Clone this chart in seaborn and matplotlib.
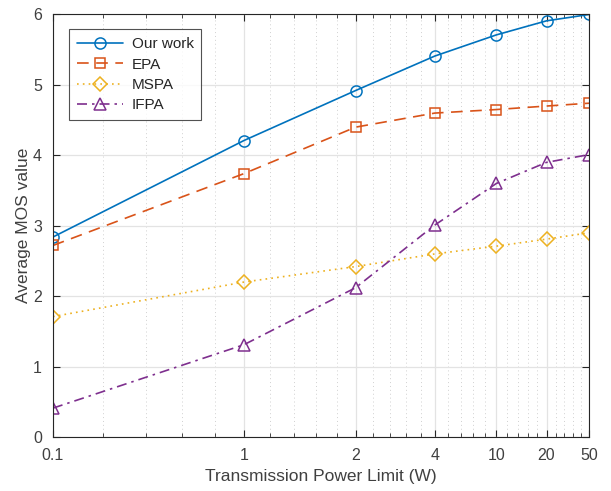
import numpy as np
import matplotlib
matplotlib.use("Agg")
import matplotlib.pyplot as plt
import matplotlib.ticker as mticker
import seaborn as sns

# power limits (W) shown on the axis; points sit at index 1..7 on a log axis
power_labels = ["0.1", "1", "2", "4", "10", "20", "50"]
x_pos = [1, 2, 3, 4, 5, 6, 7]

our_work = [2.84, 4.21, 4.92, 5.41, 5.71, 5.91, 6.0]
epa = [2.72, 3.74, 4.40, 4.60, 4.65, 4.70, 4.74]
mspa = [1.71, 2.20, 2.42, 2.60, 2.71, 2.81, 2.90]
ifpa = [0.41, 1.31, 2.12, 3.01, 3.60, 3.90, 4.01]

series = [
    ("Our work", our_work, "#0072BD", "-", "o", 8),
    ("EPA", epa, "#D95319", (0, (7, 4.5)), "s", 7),
    ("MSPA", mspa, "#EDB120", (0, (1, 2.5)), "D", 7),
    ("IFPA", ifpa, "#7E2F8E", (0, (6, 3, 1.5, 3)), "^", 8),
]

sns.set_style("ticks")
plt.rcParams["font.family"] = ["Liberation Sans", "DejaVu Sans"]

fig = plt.figure(figsize=(6.11, 4.91), dpi=100)
ax = fig.add_axes([0.0867, 0.110, 0.8773, 0.8605])

for name, vals, col, ls, mk, ms in series:
    sns.lineplot(x=x_pos, y=vals, ax=ax, color=col, linestyle=ls, linewidth=1.2,
                 marker=mk, markersize=ms, markerfacecolor="none",
                 markeredgecolor=col, markeredgewidth=1.1, label=name)

ax.set_xscale("log")
ax.set_xlim(1, 7)
ax.set_ylim(0, 6)
ax.xaxis.set_major_locator(mticker.FixedLocator(x_pos))
ax.xaxis.set_major_formatter(mticker.FixedFormatter(power_labels))
minor = [v for v in np.round(np.arange(1.2, 7.0, 0.2), 1) if abs(v - round(v)) > 1e-6]
ax.xaxis.set_minor_locator(mticker.FixedLocator(minor))
ax.xaxis.set_minor_formatter(mticker.NullFormatter())
ax.set_yticks(range(0, 7))

ax.grid(True, which="major", color="#e3e3e3", linestyle="-", linewidth=0.9)
ax.grid(True, which="minor", axis="x", color="#d0d0d0", linestyle=(0, (1, 3)), linewidth=0.7)
ax.set_axisbelow(True)

axis_col = "#262626"
for sp in ax.spines.values():
    sp.set_visible(True)
    sp.set_color(axis_col)
    sp.set_linewidth(0.8)
ax.tick_params(which="both", direction="in", top=True, right=True, colors=axis_col,
               labelcolor="#404040", labelsize=11.5)
ax.tick_params(which="major", length=5, width=0.8, pad=8)
ax.tick_params(which="minor", length=3, width=0.6)

ax.set_xlabel("Transmission Power Limit (W)", fontsize=12.5, color="#404040", labelpad=4)
ax.set_ylabel("Average MOS value", fontsize=12.5, color="#404040", labelpad=1)

leg = ax.legend(loc="upper left", bbox_to_anchor=(0.03, 0.9645), borderaxespad=0,
                fontsize=11, handlelength=3.0, frameon=True, fancybox=False,
                borderpad=0.5, labelspacing=0.42, handletextpad=0.6)
leg.get_frame().set_edgecolor(axis_col)
leg.get_frame().set_linewidth(0.8)
for t in leg.get_texts():
    t.set_color("#262626")

fig.savefig("out.png", dpi=100)
